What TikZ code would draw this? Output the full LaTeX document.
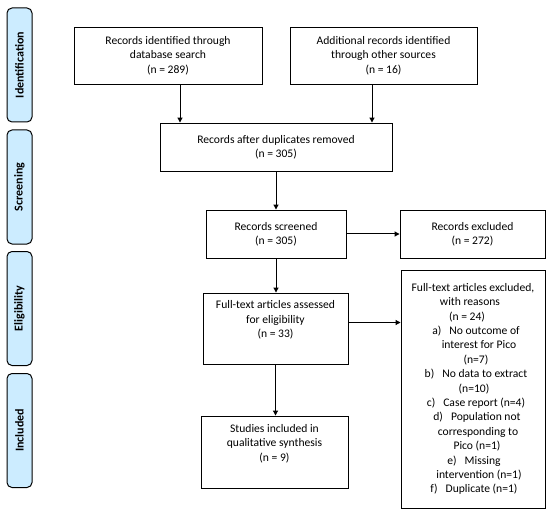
\documentclass[tikz,border=0pt]{standalone}
\usepackage{fontspec}
\setmainfont{Carlito}
\usetikzlibrary{arrows.meta}
\definecolor{phase}{RGB}{204,236,255}
\tikzset{
  box/.style={draw=black, line width=0.9pt, rectangle, align=center, inner sep=2pt,
    font=\fontsize{11.6}{14.4}\selectfont},
  phasebox/.style={draw=black, line width=1pt, fill=phase, rounded corners=5pt,
    minimum width=25pt, minimum height=114pt, inner sep=0pt},
  phasetext/.style={rotate=90, font=\fontsize{12}{13}\selectfont\bfseries},
  arr/.style={line width=1pt, -{Triangle[length=5pt,width=5pt]}}
}
\begin{document}
\begin{tikzpicture}[x=1pt,y=-1pt]
\useasboundingbox (0,0) rectangle (550,511);
% phase labels
\node[phasebox] (p1) at (19.5,65) {};
\node[phasetext] (p1t) at (p1) {Identification};
\node[phasebox] (p2) at (19.5,187) {};
\node[phasetext] (p2t) at (p2) {Screening};
\node[phasebox] (p3) at (19.5,308.5) {};
\node[phasetext] (p3t) at (p3) {Eligibility};
\node[phasebox] (p4) at (19.5,430.5) {};
\node[phasetext] (p4t) at (p4) {Included};
% boxes
\node[box, minimum width=188pt, minimum height=57pt] (b1) at (168,55.5)
  {Records identified through\\database search\\(n = 289)};
\node[box, minimum width=187pt, minimum height=57pt] (b2) at (383.5,55.5)
  {Additional records identified\\through other sources\\(n = 16)};
\node[box, minimum width=232pt, minimum height=48pt] (b3) at (276,147)
  {Records after duplicates removed\\(n = 305)};
\node[box, minimum width=140pt, minimum height=48pt] (b4) at (276,234)
  {Records screened\\(n = 305)};
\node[box, minimum width=145pt, minimum height=48pt] (b5) at (472.5,234)
  {Records excluded\\(n = 272)};
\node[box, minimum width=145pt, minimum height=71pt] (b6) at (275.5,328.5)
  {Full-text articles assessed\\for eligibility\\(n = 33)\\\strut};
\node[box, minimum width=147pt, minimum height=72pt] (b8) at (274.5,452)
  {Studies included in\\qualitative synthesis\\(n = 9)\\\strut};
\node[box, minimum width=144pt, minimum height=238pt] (b7) at (473,389)
  {Full-text articles excluded,\\
   \hspace*{-6pt}with reasons\\
   \hspace*{-12pt}(n = 24)\\
   \hspace*{6pt}a)\hspace{8pt}No outcome of\\
   \hspace*{12pt}interest for Pico\\
   \hspace*{6pt}(n=7)\\
   \hspace*{6pt}b)\hspace{8pt}No data to extract\\
   \hspace*{2pt}(n=10)\\
   \hspace*{6pt}c)\hspace{8pt}Case report (n=4)\\
   \hspace*{8pt}d)\hspace{8pt}Population not\\
   \hspace*{10pt}corresponding to\\
   \hspace*{8pt}Pico (n=1)\\
   \hspace*{2pt}e)\hspace{8pt}Missing\\
   \hspace*{12pt}intervention (n=1)\\
   \hspace*{2pt}f)\hspace{8pt}Duplicate (n=1)};
% arrows
\draw[arr] ([xshift=12pt]b1.south) -- ([xshift=12pt]b1.south |- b3.north);
\draw[arr] ([xshift=-11.5pt]b2.south) -- ([xshift=-11.5pt]b2.south |- b3.north);
\draw[arr] (b3.south) -- (b3.south |- b4.north);
\draw[arr] (b4.south) -- (b4.south |- b6.north);
\draw[arr] (b6.south) -- (b6.south |- b8.north);
\draw[arr] (b4.east) -- (b5.west);
\draw[arr] ([yshift=6pt]b6.east) -- ([yshift=6pt]b6.east -| b7.west);
\end{tikzpicture}
\end{document}
